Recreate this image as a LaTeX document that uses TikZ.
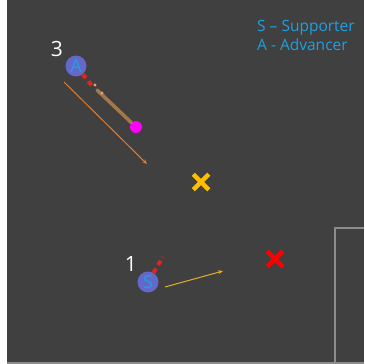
\documentclass[tikz,border=0pt]{standalone}
\usepackage{fontspec}
\setmainfont{Open Sans}
\usepackage{xcolor}
\usepackage{tikz}
\usetikzlibrary{positioning,arrows.meta,shapes.misc}
\definecolor{field}{RGB}{64,64,64}
\definecolor{lineg}{RGB}{140,140,140}
\definecolor{robot}{RGB}{100,104,200}
\definecolor{letter}{RGB}{30,160,225}
\definecolor{pathc}{RGB}{165,120,75}
\definecolor{shotc}{RGB}{225,125,45}
\definecolor{passc}{RGB}{230,175,35}
\definecolor{goalc}{RGB}{255,190,0}
\definecolor{lookc}{RGB}{225,35,35}
\definecolor{ballc}{RGB}{255,0,255}
\tikzset{
  bot/.style={circle, fill=robot, minimum size=21pt, inner sep=0pt, text=letter, font=\fontsize{18}{18}\selectfont},
  num/.style={text=white, font=\fontsize{21}{21}\selectfont, inner sep=0pt},
  ball/.style={circle, fill=ballc, minimum size=12pt, inner sep=0pt},
  xmark/.style={cross out, draw=#1, line width=4.5pt, minimum size=11pt, inner sep=0pt},
  look/.style={draw=lookc, line width=4pt, dash pattern=on 5pt off 4pt},
  mv/.style={draw=#1, line width=1pt, -{Stealth[length=5pt,width=4pt]}},
  lgd/.style={text=letter, font=\fontsize{15.5}{19}\selectfont, align=left, inner sep=0pt}
}

\begin{document}
\begin{tikzpicture}[x=1pt, y=-1pt]
    \useasboundingbox (0,0) rectangle (364,364);
    % field
    \fill[white] (0,0) rectangle (364,364);
    \fill[field] (7,0) rectangle (364,364);
    \draw[lineg, line width=2pt] (7,363) -- (364,363);
    \draw[lineg, line width=2.5pt] (335,364) -- (335,228) -- (364,228);
    % legend
    \node[lgd, anchor=north west] (key) at (257,20) {S -- Supporter\\A - Advancer};
    % targets
    \node[xmark=goalc] (tgt) at (201,182) {};
    \node[xmark=red] (goal) at (275,259) {};
    % robot 3
    \node[bot] (adv) at (76,66) {A};
    \node[num] (n3) at (57,49) {3};
    \node[ball] (pk) at (136,127) {};
    \coordinate (aim) at (93,87);
    \coordinate (p1) at (95,85);
    \coordinate (p2) at (102,93);
    \coordinate (p0) at (97,90);
    \draw[pathc, line width=3.5pt, line cap=round] (p0) -- (pk);
    \fill[shotc!70!white] (p1) circle (1.6pt) (p2) circle (1.6pt);
    \draw[look] (adv) -- (aim);
    \coordinate (s3) at (64,82);
    \coordinate (e3) at (147,164);
    \draw[mv=shotc] (s3) -- (e3);
    % robot 1
    \node[bot] (sup) at (148,282) {S};
    \node[num] (n1) at (131,264) {1};
    \coordinate (aim1) at (163,257);
    \draw[look] (sup) -- (aim1);
    \coordinate (s1) at (165,287);
    \coordinate (e1) at (223,271);
    \draw[mv=passc] (s1) -- (e1);
\end{tikzpicture}
\end{document}
